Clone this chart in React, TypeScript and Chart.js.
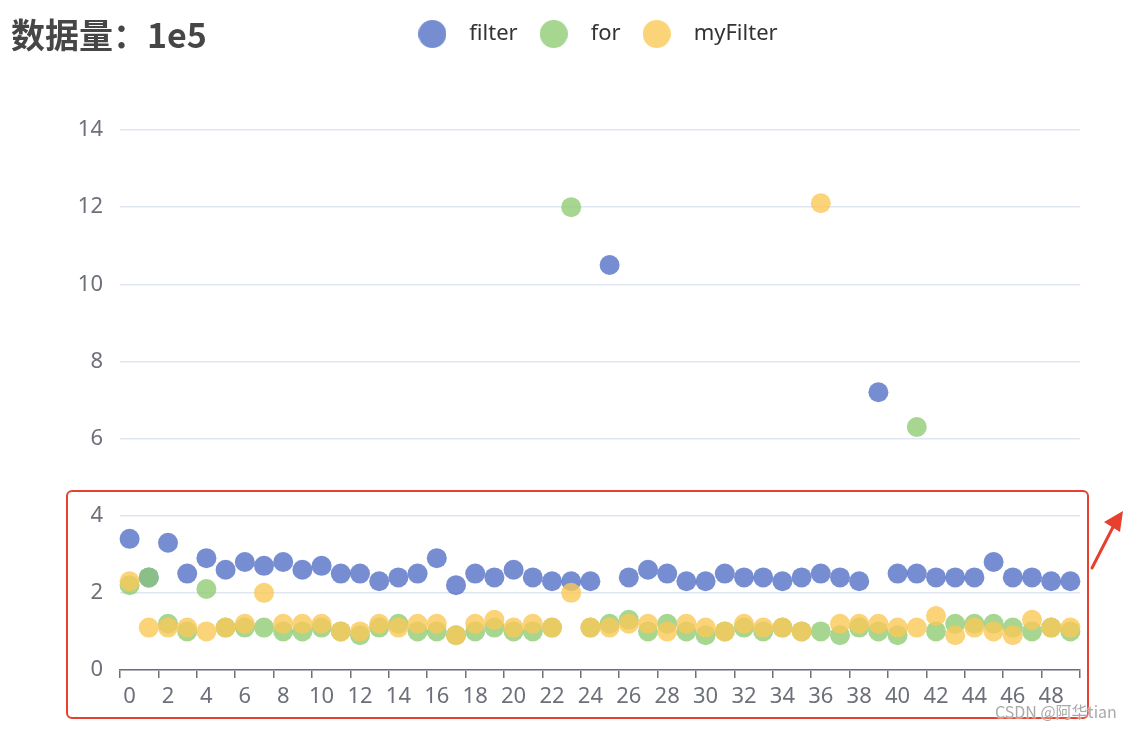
import React, { useEffect, useRef } from "react";
import { Chart, registerables } from "chart.js";

Chart.register(...registerables);

const categories = [
  0, 1, 2, 3, 4, 5, 6, 7, 8, 9, 10, 11, 12, 13, 14, 15, 16, 17, 18, 19, 20, 21, 22, 23, 24,
  25, 26, 27, 28, 29, 30, 31, 32, 33, 34, 35, 36, 37, 38, 39, 40, 41, 42, 43, 44, 45, 46, 47, 48, 49,
];

const seriesNames = ["filter", "for", "myFilter"];

const filterValues = [
  3.4, 2.4, 3.3, 2.5, 2.9, 2.6, 2.8, 2.7, 2.8, 2.6, 2.7, 2.5, 2.5, 2.3, 2.4, 2.5, 2.9, 2.2, 2.5, 2.4,
  2.6, 2.4, 2.3, 2.3, 2.3, 10.5, 2.4, 2.6, 2.5, 2.3, 2.3, 2.5, 2.4, 2.4, 2.3, 2.4, 2.5, 2.4, 2.3, 7.2,
  2.5, 2.5, 2.4, 2.4, 2.4, 2.8, 2.4, 2.4, 2.3, 2.3,
];

const forValues = [
  2.2, 2.4, 1.2, 1.0, 2.1, 1.1, 1.1, 1.1, 1.0, 1.0, 1.1, 1.0, 0.9, 1.1, 1.2, 1.0, 1.0, 0.9, 1.0, 1.1,
  1.0, 1.0, 1.1, 12.0, 1.1, 1.2, 1.3, 1.0, 1.2, 1.0, 0.9, 1.0, 1.1, 1.0, 1.1, 1.0, 1.0, 0.9, 1.1, 1.0,
  0.9, 6.3, 1.0, 1.2, 1.2, 1.2, 1.1, 1.0, 1.1, 1.0,
];

const myFilterValues = [
  2.3, 1.1, 1.1, 1.1, 1.0, 1.1, 1.2, 2.0, 1.2, 1.2, 1.2, 1.0, 1.0, 1.2, 1.1, 1.2, 1.2, 0.9, 1.2, 1.3,
  1.1, 1.2, 1.1, 2.0, 1.1, 1.1, 1.2, 1.2, 1.0, 1.2, 1.1, 1.0, 1.2, 1.1, 1.1, 1.0, 12.1, 1.2, 1.2, 1.2,
  1.1, 1.1, 1.4, 0.9, 1.1, 1.0, 0.9, 1.3, 1.1, 1.1,
];

const yTicks = [0, 2, 4, 6, 8, 10, 12, 14];

const seriesColors = [
  "rgba(84,112,198,0.8)",
  "rgba(145,204,117,0.8)",
  "rgba(250,200,88,0.8)",
];

const titleText = "数据量：1e5";
const watermarkText = "CSDN @阿华tian";

const AXIS_COLOR = "#6e7079";
const GRID_COLOR = "#e0e6f1";
const FONT = "'Noto Sans', 'Liberation Sans', sans-serif";

function makeIcon(color: string): HTMLCanvasElement {
  const c = document.createElement("canvas");
  c.width = 28;
  c.height = 28;
  const g = c.getContext("2d")!;
  g.fillStyle = color;
  g.beginPath();
  g.arc(14, 14, 14, 0, Math.PI * 2);
  g.fill();
  return c;
}

const legendSpacer = {
  id: "legendSpacer",
  beforeLayout(chart: any) {
    const lg = chart.legend;
    if (!lg || lg._spacerPatched) return;
    const fit = lg.fit;
    lg.fit = function () {
      fit.call(this);
      this.height += 75;
    };
    lg._spacerPatched = true;
  },
  afterLayout(chart: any) {
    const lg = chart.legend;
    if (!lg) return;
    lg.left -= 8;
    lg.right -= 8;
  },
};

export default function App() {
  const canvasRef = useRef<HTMLCanvasElement | null>(null);

  useEffect(() => {
    const canvas = canvasRef.current;
    if (!canvas) return;
    const icons = seriesColors.map(makeIcon);
    const values = [filterValues, forValues, myFilterValues];

    const chart = new Chart(canvas, {
      type: "line",
      data: {
        labels: categories.map(String),
        datasets: seriesNames.map((name, i) => ({
          label: name,
          data: values[i],
          showLine: false,
          pointRadius: 10,
          pointHoverRadius: 10,
          pointBorderWidth: 0,
          pointBackgroundColor: seriesColors[i],
          backgroundColor: seriesColors[i],
          borderColor: seriesColors[i],
          order: 3 - i,
        })),
      },
      options: {
        responsive: false,
        animation: false,
        layout: { padding: { left: 0, right: 48, top: 13, bottom: 0 } },
        plugins: {
          tooltip: { enabled: false },
          title: { display: false },
          legend: {
            position: "top",
            align: "center",
            fullSize: false,
            labels: {
              usePointStyle: true,
              pointStyleWidth: 52,
              boxHeight: 20,
              padding: 10,
              color: "#333",
              font: { family: FONT, size: 22 },
              sort: (a: any, b: any) => a.datasetIndex - b.datasetIndex,
              generateLabels: (ch: any) => {
                const items = (Chart as any).defaults.plugins.legend.labels.generateLabels(ch);
                items.forEach((it: any) => {
                  it.pointStyle = icons[it.datasetIndex];
                });
                return items;
              },
            },
          },
        },
        scales: {
          x: {
            type: "category",
            offset: true,
            afterFit: (scale: any) => {
              scale.height = 60;
            },
            grid: {
              offset: true,
              drawOnChartArea: false,
              drawTicks: true,
              tickLength: 8,
              lineWidth: 1.5,
              tickWidth: 1.5,
              tickColor: (ctx: any) =>
                ctx.index === undefined || ctx.index % 2 === 0 ? AXIS_COLOR : "rgba(0,0,0,0)",
            },
            border: { display: true, color: AXIS_COLOR, width: 1.5 },
            ticks: {
              autoSkip: false,
              maxRotation: 0,
              minRotation: 0,
              padding: 6,
              color: AXIS_COLOR,
              font: { family: FONT, size: 22 },
              callback: (_v: any, idx: number) => (idx % 2 === 0 ? String(categories[idx]) : ""),
            },
          },
          y: {
            min: yTicks[0],
            max: yTicks[yTicks.length - 1],
            afterFit: (scale: any) => {
              scale.width = 120;
            },
            grid: { color: GRID_COLOR, lineWidth: 1.5, drawTicks: false },
            border: { display: false },
            ticks: {
              stepSize: 2,
              padding: 17,
              color: AXIS_COLOR,
              font: { family: FONT, size: 22 },
            },
          },
        },
      },
      plugins: [legendSpacer],
    } as any);

    return () => {
      chart.destroy();
    };
  }, []);

  return (
    <div
      style={{
        position: "absolute",
        left: 0,
        top: 0,
        width: 1128,
        height: 730,
        background: "#fff",
        overflow: "hidden",
      }}
    >
      <canvas ref={canvasRef} width={1128} height={730} style={{ display: "block" }} />
      <div
        style={{
          position: "absolute",
          left: 11,
          top: 14,
          fontFamily: "'Noto Sans CJK SC', sans-serif",
          fontWeight: 700,
          fontSize: 34,
          lineHeight: "40px",
          color: "#464646",
          whiteSpace: "nowrap",
        }}
      >
        {titleText}
      </div>
      <div
        style={{
          position: "absolute",
          left: 66,
          top: 490,
          width: 1023,
          height: 229,
          boxSizing: "border-box",
          border: "2.5px solid #e8402e",
          borderRadius: 6,
          pointerEvents: "none",
        }}
      />
      <svg
        width={1128}
        height={730}
        style={{ position: "absolute", left: 0, top: 0, pointerEvents: "none" }}
      >
        <line x1={1092} y1={568} x2={1113} y2={527} stroke="#e8402e" strokeWidth={3} strokeLinecap="round" />
        <polygon points="1123,511 1104,522 1120,532" fill="#e8402e" />
      </svg>
      <div
        style={{
          position: "absolute",
          left: 995,
          top: 701,
          fontFamily: "'Noto Sans CJK SC', sans-serif",
          fontSize: 16,
          lineHeight: "20px",
          color: "rgba(160,160,160,0.9)",
          textShadow: "0 0 2px #fff, 0 0 2px #fff",
          whiteSpace: "nowrap",
        }}
      >
        {watermarkText}
      </div>
    </div>
  );
}
